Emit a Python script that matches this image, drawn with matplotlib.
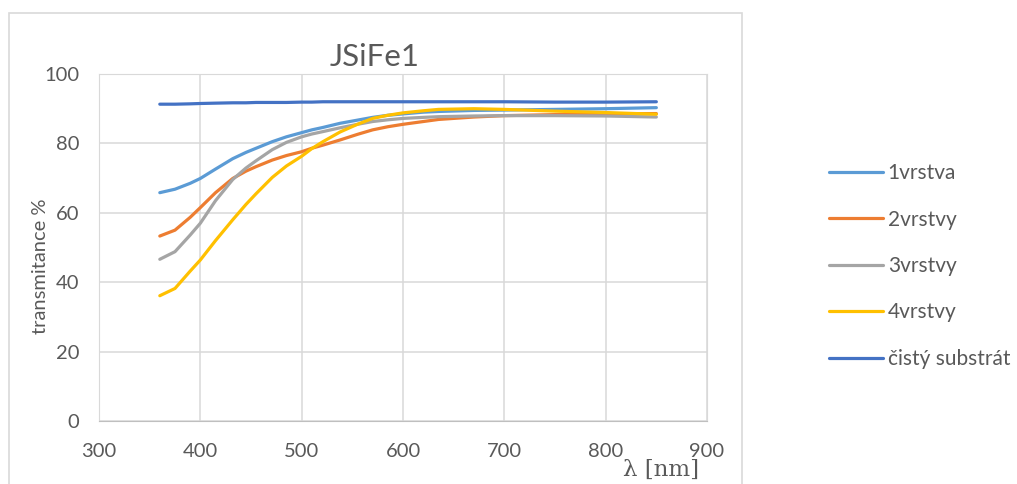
import numpy as np
import matplotlib
matplotlib.use('Agg')
import matplotlib.pyplot as plt
from matplotlib.patches import Rectangle

plt.rcParams['font.family'] = ['Lato', 'DejaVu Sans']

# wavelength [nm]
wl = [360, 375, 390, 400, 415, 432, 445, 455, 471, 485, 500, 510, 521, 538, 555, 570, 585, 600, 620, 635, 670, 700, 750, 800, 850]

# transmitance %
t1 = [65.8, 66.8, 68.5, 69.9, 72.6, 75.6, 77.4, 78.6, 80.5, 81.9, 83.1, 83.9, 84.6, 85.8, 86.7, 87.5, 88.1, 88.5, 89.0, 89.2, 89.5, 89.6, 89.8, 90.0, 90.3]
t2 = [53.3, 55.0, 58.7, 61.5, 65.8, 69.9, 72.0, 73.3, 75.2, 76.5, 77.6, 78.6, 79.5, 81.0, 82.6, 83.9, 84.8, 85.5, 86.3, 86.9, 87.6, 88.0, 88.3, 88.5, 88.6]
t3 = [46.6, 48.8, 53.6, 57.0, 63.5, 69.6, 72.9, 75.0, 78.2, 80.3, 81.9, 82.7, 83.4, 84.5, 85.5, 86.3, 86.8, 87.2, 87.5, 87.7, 87.9, 88.0, 88.0, 87.9, 87.6]
t4 = [36.1, 38.2, 43.2, 46.4, 52.0, 58.0, 62.4, 65.5, 70.2, 73.5, 76.3, 78.5, 80.5, 83.3, 85.5, 87.2, 88.1, 88.8, 89.4, 89.8, 90.0, 89.8, 89.3, 88.9, 88.4]
ts = [91.3, 91.3, 91.4, 91.5, 91.6, 91.7, 91.7, 91.8, 91.8, 91.8, 91.9, 91.9, 92.0, 92.0, 92.0, 92.0, 92.0, 92.0, 92.0, 92.0, 92.0, 92.0, 91.9, 91.9, 92.0]

labels = ['1vrstva', '2vrstvy', '3vrstvy', '4vrstvy', 'čistý substrát']
colors = ['#5B9BD5', '#ED7D31', '#A5A5A5', '#FFC000', '#4472C4']
txt = '#595959'

fig = plt.figure(figsize=(10.17, 4.84), dpi=100)
ax = fig.add_axes([99/1017, 1-421/484, 608/1017, 347/484])

# chart frame
fig.patches.append(Rectangle((9/1017, -0.05), 733/1017, 1-13/484+0.05, transform=fig.transFigure,
                             fill=False, edgecolor='#d9d9d9', linewidth=1.2))

for y, lab, c in zip([t1, t2, t3, t4, ts], labels, colors):
    ax.plot(wl, y, color=c, lw=2.3, label=lab, solid_capstyle='round', solid_joinstyle='round')

ax.set_xlim(300, 900)
ax.set_ylim(0, 100)
ax.set_xticks(range(300, 901, 100))
ax.set_yticks(range(0, 101, 20))
ax.grid(True, color='#d9d9d9', lw=1.1)
ax.set_axisbelow(True)
for s in ax.spines.values():
    s.set_color('#d9d9d9')
ax.spines['bottom'].set_color('#bfbfbf')
ax.tick_params(length=0, labelsize=14.5, labelcolor=txt)
ax.tick_params(axis='x', pad=16)
ax.tick_params(axis='y', pad=14)

fig.text(375/1017, 1-57/484, 'JSiFe1', ha='center', va='center', fontsize=22.5, color=txt)
fig.text(40/1017, 1-266/484, 'transmitance %', rotation=90, ha='center', va='center', fontsize=14.5, color=txt)
fig.text(661/1017, 1-470/484, 'λ [nm]', ha='center', va='center', fontsize=16.5, color=txt,
         family='DejaVu Serif')

fig.legend(loc='center left', bbox_to_anchor=(819/1017, 1-266/484), frameon=False, fontsize=15,
           labelcolor=txt, handlelength=2.55, handletextpad=0.25, labelspacing=1.27, borderpad=0)

fig.savefig('out.png', dpi=100)
